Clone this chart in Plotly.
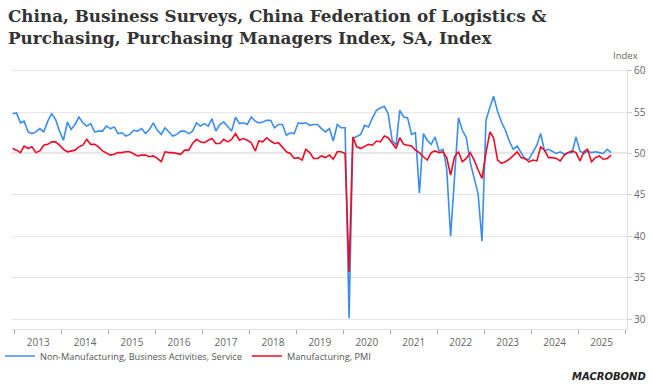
import pandas as pd
import plotly.graph_objects as go

# Monthly data, Dec 2012 .. Sep 2025
start_month = "2012-12-01"

services = [
    54.8,
    54.9, 53.7, 53.9, 52.6, 52.4, 52.6, 53.0, 52.6, 53.9, 54.8, 54.1, 52.7,
    51.6, 53.8, 52.9, 53.5, 54.4, 53.7, 53.3, 53.6, 52.6, 52.7, 52.7, 53.3,
    53.0, 53.2, 52.4, 52.5, 52.1, 52.3, 52.8, 52.7, 53.0, 52.4, 52.9, 53.7,
    52.8, 52.3, 53.1, 52.6, 52.1, 52.3, 52.7, 52.7, 52.4, 52.7, 53.7, 53.3,
    53.6, 53.3, 54.2, 52.7, 53.5, 53.8, 53.2, 52.7, 54.4, 53.6, 53.7, 53.5,
    54.4, 53.9, 53.7, 53.8, 54.0, 54.0, 53.1, 53.5, 53.5, 52.2, 52.5, 52.4,
    53.7, 53.6, 53.7, 53.4, 53.5, 53.5, 53.0, 52.6, 53.0, 51.5, 53.5, 53.1,
    53.1, 30.1, 51.8, 52.1, 52.3, 53.4, 53.2, 54.3, 55.2, 55.5, 55.7, 54.8,
    51.6, 51.0, 55.2, 54.4, 54.3, 52.3, 52.5, 45.2, 52.4, 51.6, 51.1, 52.0,
    50.3, 50.5, 48.2, 40.0, 47.1, 54.3, 52.8, 51.9, 48.9, 47.0, 45.1, 39.4,
    54.0, 55.6, 56.9, 55.1, 53.8, 52.8, 51.5, 50.5, 50.9, 50.1, 49.3, 49.3,
    50.1, 51.0, 52.4, 50.3, 50.5, 50.2, 50.0, 50.2, 49.9, 50.1, 50.1, 52.0,
    50.3, 50.0, 50.3, 50.1, 50.2, 50.1, 50.0, 50.5, 50.1,
]

manufacturing = [
    50.6,
    50.4, 50.1, 50.9, 50.6, 50.8, 50.1, 50.3, 51.0, 51.1, 51.4, 51.4, 51.0,
    50.5, 50.2, 50.3, 50.4, 50.8, 51.0, 51.7, 51.1, 51.1, 50.8, 50.3, 50.1,
    49.8, 49.9, 50.1, 50.1, 50.2, 50.2, 50.0, 49.7, 49.8, 49.8, 49.6, 49.7,
    49.4, 49.0, 50.2, 50.1, 50.1, 50.0, 49.9, 50.4, 50.4, 51.2, 51.7, 51.4,
    51.3, 51.6, 51.8, 51.2, 51.2, 51.7, 51.4, 51.7, 52.4, 51.6, 51.8, 51.6,
    51.3, 50.3, 51.5, 51.4, 51.9, 51.5, 51.2, 51.3, 50.8, 50.2, 50.0, 49.4,
    49.5, 49.2, 50.5, 50.1, 49.4, 49.4, 49.7, 49.5, 49.8, 49.3, 50.2, 50.2,
    50.0, 35.7, 52.0, 50.8, 50.6, 50.9, 51.1, 51.0, 51.5, 51.4, 52.1, 51.9,
    51.3, 50.6, 51.9, 51.1, 51.0, 50.9, 50.4, 50.1, 49.6, 49.2, 50.1, 50.3,
    50.1, 50.2, 49.5, 47.4, 49.6, 50.2, 49.0, 49.4, 50.1, 49.2, 48.0, 47.0,
    50.1, 52.6, 51.9, 49.2, 48.8, 49.0, 49.3, 49.7, 50.2, 49.5, 49.4, 49.0,
    49.2, 49.1, 50.8, 50.4, 49.5, 49.5, 49.4, 49.1, 49.8, 50.1, 50.3, 50.1,
    49.1, 50.2, 50.5, 49.0, 49.5, 49.7, 49.3, 49.4, 49.8,
]

series_names = ["Non-Manufacturing, Business Activities, Service", "Manufacturing, PMI"]
y_ticks = [30, 35, 40, 45, 50, 55, 60]

dates = pd.date_range(start_month, periods=len(services), freq="MS") + pd.Timedelta(days=14)

W, H = 652, 388
ML, MR, MT, MB = 11, 25, 69, 59
PW, PH = W - ML - MR, H - MT - MB


def px_x(px):
    return (px - ML) / PW


def px_y(py):
    return (H - MB - py) / PH


BLUE = "#3A8DF0"
RED = "#EC0A24"
TICK_FONT = dict(family="Open Sans", size=10, color="#666666")

fig = go.Figure()
fig.add_trace(go.Scatter(x=dates, y=services, mode="lines", name=series_names[0],
                         line=dict(color=BLUE, width=1.6)))
fig.add_trace(go.Scatter(x=dates, y=manufacturing, mode="lines", name=series_names[1],
                         line=dict(color=RED, width=1.6)))

fig.add_hline(y=50, line=dict(color="#9a9a9a", width=1.2), layer="below")

fig.update_layout(
    width=W, height=H,
    margin=dict(l=ML, r=MR, t=MT, b=MB, autoexpand=False),
    paper_bgcolor="white", plot_bgcolor="white",
    title=dict(
        text="China, Business Surveys, China Federation of Logistics &<br>Purchasing, Purchasing Managers Index, SA, Index",
        font=dict(family="DejaVu Serif", size=16.8, color="#333333", weight="bold"),
        x=8 / W, xref="container", xanchor="left",
        y=1 - 22 / H, yref="container", yanchor="top",
    ),
    showlegend=True,
    legend=dict(orientation="h", x=px_x(0), xref="paper", y=px_y(356), yref="paper",
                yanchor="middle", xanchor="left",
                font=dict(family="Open Sans", size=9.2, color="#555555"),
                itemwidth=30, tracegroupgap=0, bgcolor="rgba(0,0,0,0)"),
    xaxis=dict(
        type="date",
        range=["2012-12-03", "2026-01-16"],
        tick0="2013-01-01", dtick="M12", tickformat="%Y",
        ticklabelmode="period",
        ticks="outside", ticklen=4, tickcolor="#aaaaaa",
        showgrid=False, showline=True, linecolor="#e0e0e0", linewidth=1,
        zeroline=False, tickfont=TICK_FONT, automargin=False,
    ),
    yaxis=dict(
        side="right", range=[28.8, 60.2],
        tickvals=y_ticks,
        ticks="outside", ticklen=4, tickcolor="#cccccc",
        showgrid=True, gridcolor="#e8e8e8", gridwidth=1,
        showline=True, linecolor="#e0e0e0", linewidth=1,
        zeroline=False, tickfont=TICK_FONT, automargin=False,
    ),
    annotations=[
        dict(text="Index", x=px_x(640), xref="paper", xanchor="right",
             y=px_y(56), yref="paper", yanchor="middle", showarrow=False,
             font=dict(family="Open Sans", size=9.5, color="#666666")),
        dict(text="<b><i>MACROBOND</i></b>", x=px_x(648), xref="paper", xanchor="right",
             y=px_y(376), yref="paper", yanchor="middle", showarrow=False,
             font=dict(family="DejaVu Sans", size=10, color="#222222")),
    ],
)

fig.write_html("out.html", config={"displayModeBar": False},
               post_script="document.body.style.margin='0';")
